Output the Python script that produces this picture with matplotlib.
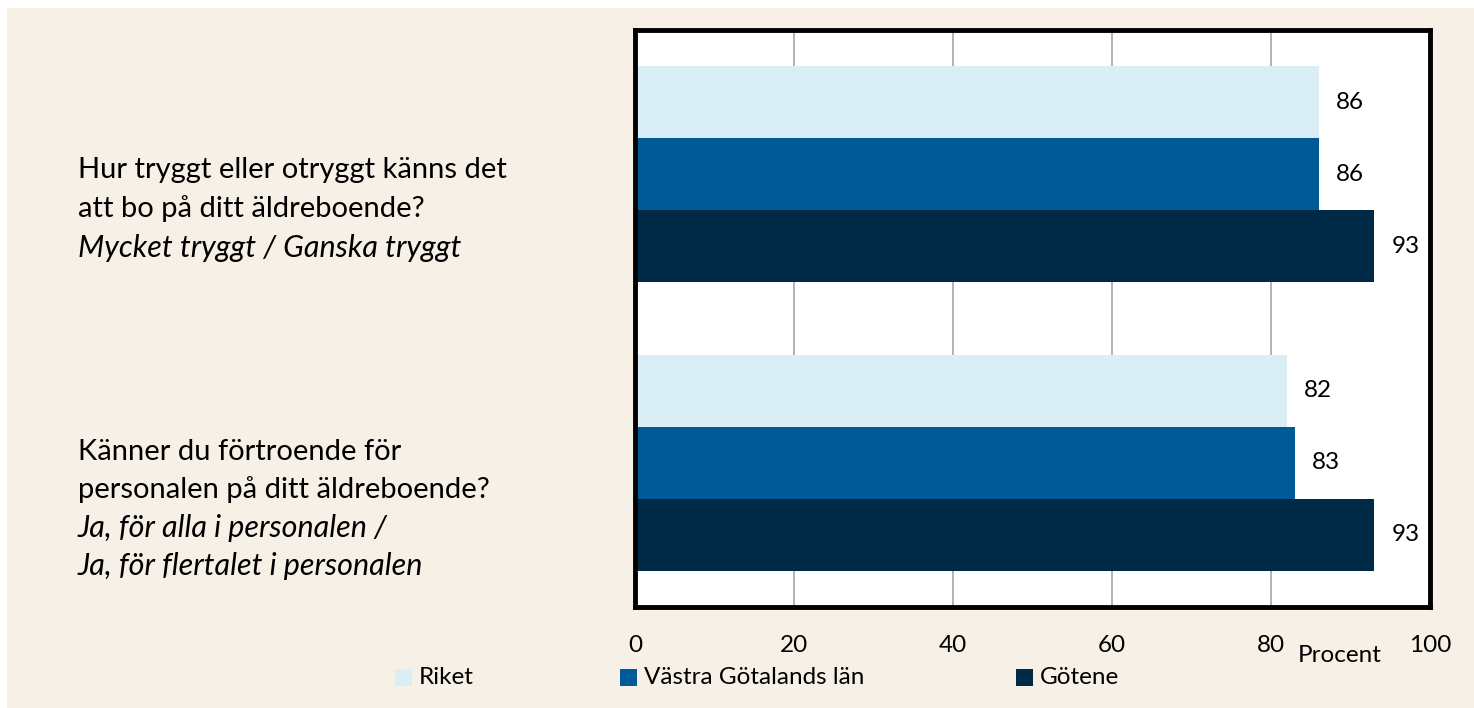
import matplotlib.pyplot as plt
import numpy as np
from matplotlib.patches import Rectangle

plt.rcParams['font.family'] = ['Lato', 'DejaVu Sans']

# data
questions = [
    ("Hur tryggt eller otryggt känns det\natt bo på ditt äldreboende?",
     "Mycket tryggt / Ganska tryggt"),
    ("Känner du förtroende för\npersonalen på ditt äldreboende?",
     "Ja, för alla i personalen /\nJa, för flertalet i personalen"),
]
series_names = ["Riket", "Västra Götalands län", "Götene"]
riket = [86, 82]
vgl = [86, 83]
gotene = [93, 93]
x_ticks = [0, 20, 40, 60, 80, 100]

colors = ["#DAEEF5", "#005A96", "#002A45"]
bg = "#F7F0E6"

fig = plt.figure(figsize=(14.74, 7.08), dpi=100)
fig.patch.set_facecolor("white")
fig.add_artist(Rectangle((7 / 1474, 0), 1, 1 - 8 / 708, transform=fig.transFigure,
                         facecolor=bg, edgecolor="none", zorder=-10))

W, H = 1474, 708
left, right, top, bottom = 635, 1430, 30, 607
ax = fig.add_axes([left / W, 1 - bottom / H, (right - left) / W, (bottom - top) / H])
ax.set_facecolor("white")

y = np.arange(len(questions))
h = 0.25
for i, (vals, col, name) in enumerate(zip([riket, vgl, gotene], colors, series_names)):
    pos = y + (i - 1) * h
    ax.barh(pos, vals, height=h, color=col, label=name, zorder=2)
    for p, v in zip(pos, vals):
        ax.text(v + 3.9, p, str(v), va="center", ha="center", fontsize=17.5, color="black")

ax.set_xlim(0, 100)
ax.set_ylim(1.5, -0.5)
ax.set_xticks(x_ticks)
ax.set_xticklabels([str(t) for t in x_ticks], fontsize=17.5)
ax.tick_params(axis="x", length=0, pad=20)
ax.set_yticks([])
ax.grid(axis="x", color="#A6A6A6", linewidth=1.2, zorder=1)
for s in ax.spines.values():
    s.set_linewidth(3.5)
    s.set_color("black")

fig.text(1340 / W, 1 - 655 / H, "Procent", ha="center", va="center", fontsize=17.5)

# question labels: first line position and line spacing in pixels
for (y0, lh), (main, sub) in zip([(170, 39), (452, 38)], questions):
    lines = [(t, "normal", 21) for t in main.split("\n")] + \
            [(t, "italic", 22) for t in sub.split("\n")]
    for k, (line, st, fs) in enumerate(lines):
        fig.text(78 / W, 1 - (y0 + k * lh) / H, line, ha="left", va="center",
                 fontsize=fs, style=st)

# legend
for x0, col, name in zip([395, 620, 1016], colors, series_names):
    fig.add_artist(Rectangle((x0 / W, 1 - 686 / H), 17 / W, 17 / H,
                             transform=fig.transFigure, facecolor=col, edgecolor="none"))
    fig.text((x0 + 24) / W, 1 - 677 / H, name, ha="left", va="center", fontsize=17.5)

fig.savefig("out.png", dpi=100)
